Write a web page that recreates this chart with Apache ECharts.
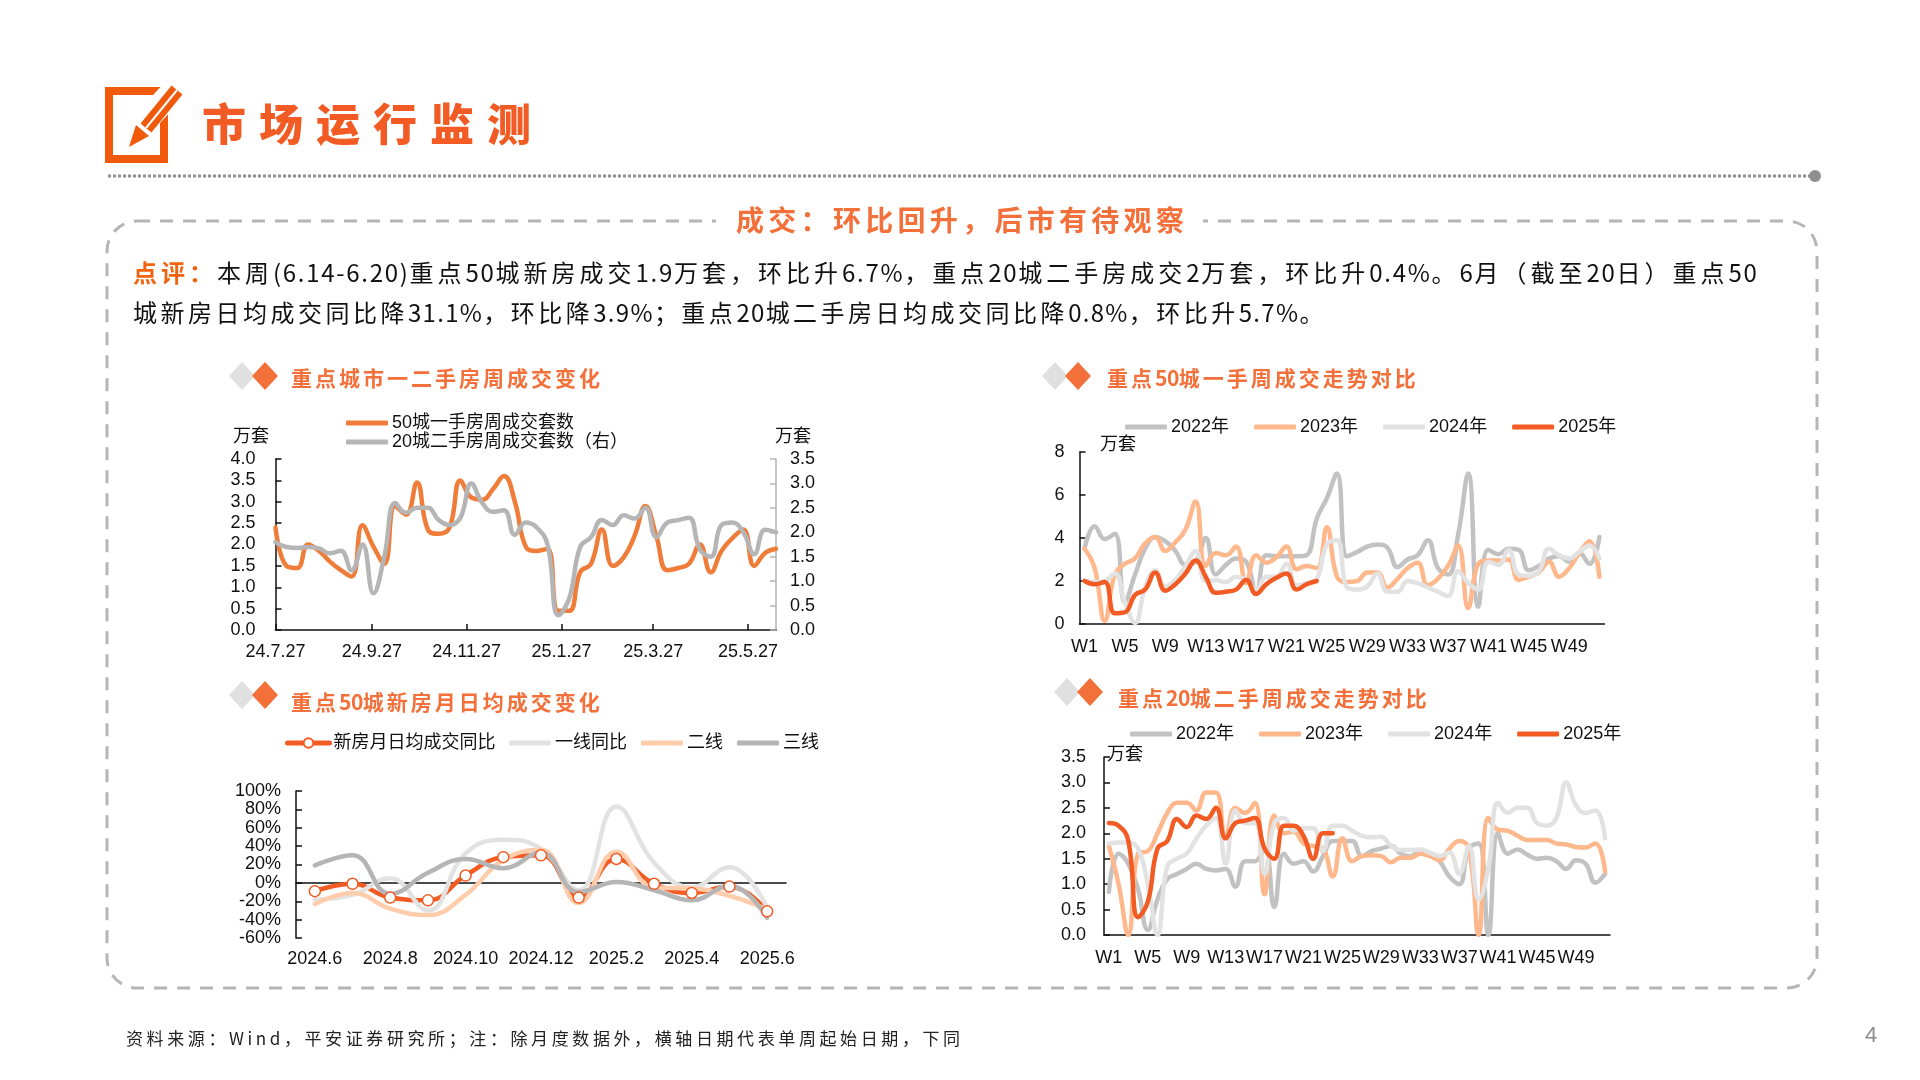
<!DOCTYPE html>
<html>
<head>
<meta charset="utf-8">
<title>市场运行监测</title>
<style>
html,body{margin:0;padding:0;background:#fff;width:1920px;height:1080px;overflow:hidden}
#main{position:absolute;left:0;top:0;width:1920px;height:1080px}
.t{position:absolute;white-space:nowrap;font-family:"Noto Sans CJK SC",sans-serif;line-height:1}
.orange{color:#F25C24}
.head{font-weight:700;font-size:21px;letter-spacing:3px;color:#F4703A}
.head i{font-style:normal;letter-spacing:-0.5px}
.body{font-size:24px;letter-spacing:4px;color:#111}
.body i{font-style:normal;letter-spacing:1.7px}
.body.l2{letter-spacing:3.5px}
.body.l2 i{letter-spacing:1.3px}
</style>
</head>
<body>
<div id="main"></div>
<div class="t orange" style="left:202px;top:100px;font-size:44px;font-weight:900;letter-spacing:13px">市场运行监测</div>
<div class="t orange" style="left:736px;top:205px;font-size:28px;font-weight:700;letter-spacing:4.3px;color:#F4703A">成交：环比回升，后市有待观察</div>
<div class="t body" style="left:133px;top:260px"><span style="color:#F0640F;font-weight:700">点评：</span>本周<i>(6.14-6.20)</i>重点<i>50</i>城新房成交<i>1.9</i>万套，环比升<i>6.7%</i>，重点<i>20</i>城二手房成交<i>2</i>万套，环比升<i>0.4%</i>。<i>6</i>月（截至<i>20</i>日）重点<i>50</i></div>
<div class="t body l2" style="left:133px;top:300px">城新房日均成交同比降<i>31.1%</i>，环比降<i>3.9%</i>；重点<i>20</i>城二手房日均成交同比降<i>0.8%</i>，环比升<i>5.7%</i>。</div>
<div class="t head" style="left:291px;top:367px">重点城市一二手房周成交变化</div>
<div class="t head" style="left:1107px;top:367px">重点<i>50</i>城一手周成交走势对比</div>
<div class="t head" style="left:291px;top:691px">重点<i>50</i>城新房月日均成交变化</div>
<div class="t head" style="left:1118px;top:687px">重点<i>20</i>城二手周成交走势对比</div>
<div class="t" style="left:126px;top:1029px;font-size:17px;letter-spacing:3.6px;color:#222">资料来源：Wind，平安证券研究所；注：除月度数据外，横轴日期代表单周起始日期，下同</div>
<div class="t" style="left:1865px;top:1024px;font-size:22px;color:#8c8c8c;font-family:'Liberation Sans'">4</div>
<script src="https://cdn.jsdelivr.net/npm/echarts@6/dist/echarts.min.js"></script>
<script>
// chart 1: weekly sets, left axis new homes, right axis resale
var weekDates = ['2024-07-27','2024-08-03','2024-08-10','2024-08-17','2024-08-24','2024-08-31','2024-09-07','2024-09-14','2024-09-21','2024-09-28','2024-10-05','2024-10-12','2024-10-19','2024-10-26','2024-11-02','2024-11-09','2024-11-16','2024-11-23','2024-11-30','2024-12-07','2024-12-14','2024-12-21','2024-12-28','2025-01-04','2025-01-11','2025-01-18','2025-01-25','2025-02-01','2025-02-08','2025-02-15','2025-02-22','2025-03-01','2025-03-08','2025-03-15','2025-03-22','2025-03-29','2025-04-05','2025-04-12','2025-04-19','2025-04-26','2025-05-03','2025-05-10','2025-05-17','2025-05-24','2025-05-31','2025-06-07','2025-06-14'];
var city50 = [2.4,1.5,1.45,2.0,1.85,1.6,1.4,1.25,2.45,1.95,1.55,2.9,2.7,3.45,2.35,2.25,2.4,3.5,3.1,3.05,3.3,3.6,3.0,1.95,1.85,1.9,0.45,0.45,1.35,1.55,2.35,1.5,1.7,2.2,2.9,2.2,1.4,1.45,1.55,2.0,1.35,1.85,2.15,2.35,1.5,1.8,1.9];
var city20 = [1.8,1.7,1.68,1.7,1.67,1.57,1.62,1.22,1.75,0.75,1.5,2.6,2.4,2.5,2.5,2.25,2.15,2.3,3.0,2.6,2.42,2.45,1.95,2.2,2.1,1.75,0.3,0.65,1.7,1.9,2.25,2.15,2.35,2.28,2.5,1.9,2.2,2.25,2.3,1.65,1.5,2.15,2.2,2.0,1.55,2.05,2.0];
var dateTicks = ['2024-07-27','2024-09-27','2024-11-27','2025-01-27','2025-03-27','2025-05-27'];
var dateTickLabels = ['24.7.27','24.9.27','24.11.27','25.1.27','25.3.27','25.5.27'];

// chart 2: 50 cities new homes by week of year
var weeks = ['W1','W2','W3','W4','W5','W6','W7','W8','W9','W10','W11','W12','W13','W14','W15','W16','W17','W18','W19','W20','W21','W22','W23','W24','W25','W26','W27','W28','W29','W30','W31','W32','W33','W34','W35','W36','W37','W38','W39','W40','W41','W42','W43','W44','W45','W46','W47','W48','W49','W50','W51','W52'];
var new2022 = [3.5,4.55,3.95,4.2,1.0,2.3,3.5,4.05,3.85,3.4,2.75,2.9,4.0,2.3,2.75,3.05,2.9,1.5,3.2,3.15,3.15,3.15,3.2,4.9,5.85,7.0,3.15,3.35,3.6,3.7,3.55,2.65,3.0,3.2,3.9,2.6,2.3,4.15,7.0,0.8,3.45,3.25,3.5,3.45,2.5,2.7,3.05,3.15,2.9,3.3,2.8,4.05];
var new2023 = [3.5,2.6,0.15,2.3,2.8,3.05,3.75,4.05,3.4,3.8,4.4,5.7,2.7,3.3,3.2,3.6,1.9,3.2,2.85,3.1,3.6,2.55,2.7,2.6,4.5,2.2,1.95,2.0,2.4,2.4,1.7,2.1,2.6,2.85,1.8,2.1,2.7,3.65,0.75,2.8,2.95,2.95,3.0,2.05,2.2,2.4,2.9,2.2,2.6,3.3,3.85,2.2];
var new2024 = [2.0,1.95,2.0,2.35,1.0,0.05,1.7,2.5,1.75,2.05,2.7,3.4,2.0,2.05,1.95,2.2,2.05,1.6,2.2,2.2,2.8,1.8,1.9,2.1,3.7,3.9,1.7,1.6,1.75,2.35,1.5,1.5,2.0,1.9,1.7,1.5,1.3,2.45,1.9,1.6,2.9,2.75,3.45,2.3,2.25,2.45,3.5,3.2,3.05,3.35,3.65,3.05];
var new2025 = [2.0,1.85,1.95,0.5,0.55,1.35,1.6,2.4,1.55,1.85,2.35,2.95,2.2,1.45,1.5,1.6,2.05,1.4,1.85,2.15,2.35,1.6,1.85,2.0];

// chart 3: monthly yoy, percent
var months = ['2024.6','2024.7','2024.8','2024.9','2024.10','2024.11','2024.12','2025.1','2025.2','2025.3','2025.4','2025.5','2025.6'];
var yoyAll = [-9,-1,-16,-19,8,28,30,-16,26,-1,-11,-4,-31];
var yoyTier1 = [-18,-13,5,-30,32,47,37,-8,83,22,-5,17,-27];
var yoyTier2 = [-23,-11,-28,-35,-13,25,36,-22,34,-5,-6,-14,-29];
var yoyTier3 = [19,30,-12,11,26,16,33,-10,1,-8,-19,-3,-38];

// chart 4: 20 cities resale by week of year
var old2022 = [0.85,1.6,1.4,0.9,0.1,0.7,1.1,1.2,1.3,1.4,1.3,1.27,1.3,0.95,1.45,1.45,1.7,0.55,1.6,1.4,1.45,1.25,1.55,1.85,1.85,1.85,1.55,1.65,1.7,1.75,1.6,1.55,1.65,1.6,1.45,1.15,1.0,1.7,1.8,0.0,2.0,1.6,1.68,1.58,1.5,1.52,1.45,1.3,1.47,1.4,1.03,1.2];
var old2023 = [1.75,1.0,0.0,1.6,1.65,2.0,2.4,2.6,2.6,2.45,2.8,2.8,1.9,2.5,2.4,2.6,0.8,2.35,2.0,2.03,1.8,1.75,1.7,1.15,1.9,1.45,1.55,1.57,1.55,1.43,1.52,1.52,1.6,1.55,1.47,1.7,1.85,1.7,0.0,2.3,2.07,2.05,1.95,1.87,1.87,1.87,1.8,1.78,1.73,1.72,1.8,1.25];
var old2024 = [1.8,1.82,1.82,1.7,1.0,0.0,1.35,1.5,1.6,1.9,2.15,2.3,1.4,2.45,2.2,2.2,1.2,2.2,2.3,2.05,2.1,2.1,1.65,2.15,2.15,2.05,1.95,1.92,1.93,1.75,1.67,1.67,1.68,1.62,1.55,1.62,1.2,1.75,0.7,1.3,2.6,2.4,2.5,2.5,2.2,2.15,2.3,3.0,2.55,2.4,2.45,1.9];
var old2025 = [2.2,2.15,1.85,0.35,0.65,1.7,1.85,2.28,2.12,2.35,2.28,2.5,1.9,2.2,2.25,2.3,1.7,1.5,2.15,2.15,1.95,1.5,2.0,2.0];

var C_ORANGE = '#F07C3A', C_GRAY = '#B5B5B5', C_RED = '#F25C24';
var C_22 = '#C2C2C2', C_23 = '#FFB78C', C_24 = '#E2E2E2', C_T2 = '#FFCCAC';
var FONT = '"Liberation Sans","Noto Sans CJK SC",sans-serif';
var AXIS_LINE = {lineStyle: {color: '#111', width: 1.5}};
var LABEL = {color: '#111', fontSize: 18, fontFamily: FONT};

function toMs(s) {
    var p = s.split('-');
    return new Date(+p[0], +p[1] - 1, +p[2]).getTime();
}
function pairs(vals) {
    return vals.map(function (v, i) { return [toMs(weekDates[i]), v]; });
}
function line(name, data, color, x, y, extra) {
    var s = {
        name: name, type: 'line', data: data, xAxisIndex: x, yAxisIndex: y,
        smooth: 0.45, symbol: 'none', animation: false,
        lineStyle: {color: color, width: 4.5, cap: 'round'},
        itemStyle: {color: color}
    };
    for (var k in extra) s[k] = extra[k];
    return s;
}
function legendCfg(names, left, top, gap) {
    return {
        data: names, left: left, top: top, padding: 0, icon: 'roundRect',
        itemWidth: 42, itemHeight: 5, itemGap: gap,
        textStyle: {color: '#111', fontSize: 18, fontFamily: FONT, padding: [0, 0, 0, -1]},
        selectedMode: false
    };
}
function weekAxis(grid, margin) {
    return {
        type: 'category', gridIndex: grid, data: weeks, boundaryGap: true,
        axisLine: AXIS_LINE,
        axisTick: {inside: true, length: 6, interval: 0, lineStyle: {color: '#111', width: 1.5}},
        axisLabel: Object.assign({interval: 3, margin: margin}, LABEL)
    };
}
function yAxisCfg(grid, min, max, step, digits, margin, extra) {
    var a = {
        type: 'value', gridIndex: grid, min: min, max: max, interval: step,
        splitLine: {show: false},
        axisLine: Object.assign({show: true}, AXIS_LINE),
        axisTick: {show: true, inside: true, length: 6, lineStyle: {color: '#111', width: 1.5}},
        axisLabel: Object.assign({margin: margin, formatter: function (v) { return v.toFixed(digits); }}, LABEL)
    };
    for (var k in extra) a[k] = extra[k];
    return a;
}
function txt(s, x, y) {
    return {type: 'text', left: x, top: y, style: {text: s, fill: '#111', font: '18px "Noto Sans CJK SC"'}};
}
function diamonds(cx, cy) {
    return [
        {type: 'polygon', shape: {points: [[cx - 23, cy], [cx - 10, cy - 14], [cx + 3, cy], [cx - 10, cy + 14]]}, style: {fill: '#E0E0E0'}},
        {type: 'polygon', shape: {points: [[cx, cy], [cx + 13, cy - 14], [cx + 26, cy], [cx + 13, cy + 14]]}, style: {fill: '#F4703A'}}
    ];
}

var tickMs = dateTicks.map(toMs);
var chart = echarts.init(document.getElementById('main'), null, {renderer: 'canvas'});
chart.setOption({
    animation: false,
    backgroundColor: '#fff',
    textStyle: {fontFamily: FONT},
    grid: [
        {left: 275.5, width: 500.5, top: 459, height: 171},
        {left: 1079.5, width: 525, top: 452, height: 172},
        {left: 296, width: 490, top: 791, height: 147},
        {left: 1104, width: 506, top: 757, height: 178}
    ],
    legend: [
        Object.assign(legendCfg(['50城一手房周成交套数', '20城二手房周成交套数（右）'], 346, 414, 1), {orient: 'vertical'}),
        legendCfg(['2022年', '2023年', '2024年', '2025年'], 1125, 418, 25),
        Object.assign(legendCfg(['新房月日均成交同比'], 285, 734, 0), {
            icon: null, itemHeight: 12, lineStyle: {width: 5}
        }),
        legendCfg(['一线同比', '二线', '三线'], 509, 734, 14),
        legendCfg(['2022年', '2023年', '2024年', '2025年'], 1130, 725, 25)
    ],
    xAxis: [
        {
            type: 'value', gridIndex: 0, min: toMs(weekDates[0]), max: toMs(weekDates[46]),
            axisLine: AXIS_LINE, splitLine: {show: false},
            axisTick: {inside: true, length: 6, customValues: tickMs, lineStyle: {color: '#111', width: 1.5}},
            axisLabel: Object.assign({
                margin: 13, customValues: tickMs,
                formatter: function (v) { return dateTickLabels[tickMs.indexOf(v)]; }
            }, LABEL)
        },
        weekAxis(1, 14),
        {
            type: 'category', gridIndex: 2, data: months, position: 'bottom',
            axisLine: {show: false, onZero: false}, axisTick: {show: false},
            axisLabel: Object.assign({interval: 1, margin: 12}, LABEL)
        },
        weekAxis(3, 14),
        {
            type: 'category', gridIndex: 2, data: months, position: 'bottom',
            axisLine: {show: true, onZero: true, lineStyle: {color: '#111', width: 1.5}},
            axisTick: {inside: true, length: 6, interval: 0, lineStyle: {color: '#111', width: 1.5}},
            axisLabel: {show: false}
        }
    ],
    yAxis: [
        yAxisCfg(0, 0, 4, 0.5, 1, 20),
        yAxisCfg(0, 0, 3.5, 0.5, 1, 14, {
            position: 'right',
            axisLine: {show: true, lineStyle: {color: C_GRAY, width: 1.5}},
            axisTick: {show: true, inside: true, length: 6, lineStyle: {color: C_GRAY, width: 1.5}}
        }),
        yAxisCfg(1, 0, 8, 2, 0, 15),
        yAxisCfg(2, -60, 100, 20, 0, 15, {
            axisLabel: Object.assign({margin: 15, formatter: '{value}%'}, LABEL)
        }),
        yAxisCfg(3, 0, 3.5, 0.5, 1, 18)
    ],
    series: [
        line('50城一手房周成交套数', pairs(city50), C_ORANGE, 0, 0),
        line('20城二手房周成交套数（右）', pairs(city20), C_GRAY, 0, 1),
        line('2022年', new2022, C_22, 1, 2),
        line('2023年', new2023, C_23, 1, 2),
        line('2024年', new2024, C_24, 1, 2),
        line('2025年', new2025, C_RED, 1, 2),
        line('新房月日均成交同比', yoyAll, C_RED, 2, 3, {
            symbol: 'circle', symbolSize: 11,
            itemStyle: {color: '#fff', borderColor: C_RED, borderWidth: 1.5}
        }),
        line('一线同比', yoyTier1, C_24, 2, 3),
        line('二线', yoyTier2, C_T2, 2, 3),
        line('三线', yoyTier3, C_GRAY, 2, 3),
        line('2022年', old2022, C_22, 3, 4),
        line('2023年', old2023, C_23, 3, 4),
        line('2024年', old2024, C_24, 3, 4),
        line('2025年', old2025, C_RED, 3, 4)
    ],
    graphic: [
        // page furniture
        {type: 'rect', shape: {x: 109, y: 91, width: 55, height: 68}, style: {fill: 'none', stroke: '#F05A0A', lineWidth: 8}},
        {type: 'line', shape: {x1: 137, y1: 130, x2: 176, y2: 88}, style: {stroke: '#fff', lineWidth: 24}},
        {type: 'line', shape: {x1: 146, y1: 128, x2: 177, y2: 90}, style: {stroke: '#F05A0A', lineWidth: 14}},
        {type: 'line', shape: {x1: 146, y1: 128, x2: 177, y2: 90}, style: {stroke: '#fff', lineWidth: 2}},
        {type: 'polygon', shape: {points: [[129, 147], [136, 125], [149, 136]]}, style: {fill: '#F05A0A'}},
        {type: 'line', shape: {x1: 108, y1: 176, x2: 1810, y2: 176}, style: {stroke: '#8f8f8f', lineWidth: 3, lineDash: [3, 2]}},
        {type: 'circle', shape: {cx: 1815, cy: 176, r: 6}, style: {fill: '#8f8f8f'}},
        {type: 'rect', shape: {x: 107, y: 221, width: 1710, height: 767, r: 30}, style: {fill: 'none', stroke: C_GRAY, lineWidth: 3, lineDash: [13, 10]}},
        {type: 'rect', shape: {x: 716, y: 205, width: 487, height: 30}, style: {fill: '#fff'}},
        txt('万套', 233, 426),
        txt('万套', 775, 426),
        txt('万套', 1100, 434),
        txt('万套', 1107, 744)
    ].concat(diamonds(252, 376), diamonds(1065, 376), diamonds(252, 695), diamonds(1077, 692))
});
</script>
</body>
</html>
